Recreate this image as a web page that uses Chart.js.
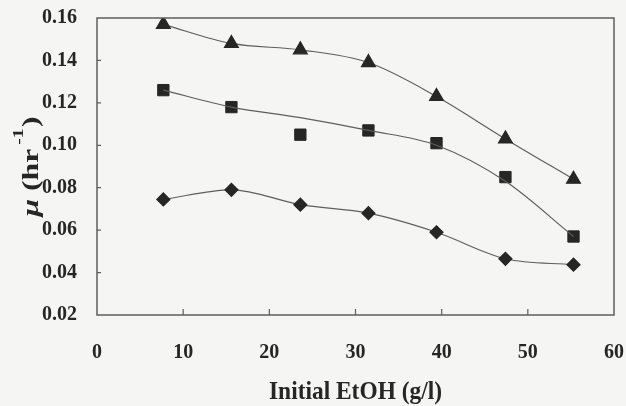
<!DOCTYPE html>
<html>
<head>
<meta charset="utf-8">
<script src="https://cdn.jsdelivr.net/npm/chart.js@4.4.1/dist/chart.umd.min.js"></script>
<style>
  html, body { margin: 0; padding: 0; background: #f5f5f4; }
  #wrap { width: 626px; height: 406px; }
</style>
</head>
<body>
<div id="wrap"><canvas id="muChart" width="626" height="406"></canvas></div>
<script>
// values
const ethanol = [7.7, 15.6, 23.6, 31.5, 39.4, 47.4, 55.3];
const triangleMu = [0.157, 0.148, 0.145, 0.139, 0.123, 0.103, 0.084];
const squareMu = [0.126, 0.118, 0.105, 0.107, 0.101, 0.085, 0.057];
const squareFit = [0.126, 0.118, 0.113, 0.107, 0.100, 0.083, 0.057];
const diamondMu = [0.0745, 0.079, 0.072, 0.068, 0.059, 0.0465, 0.0437];

const xTicks = [0, 10, 20, 30, 40, 50, 60];
const yTicks = [0.02, 0.04, 0.06, 0.08, 0.10, 0.12, 0.14, 0.16];
const xTitle = 'Initial EtOH (g/l)';

const FONT = "'Liberation Serif', 'Times New Roman', serif";
const INK = '#262626';
const LINE = '#5e5e5e';

const toPoints = ys => ys.map((y, i) => ({ x: ethanol[i], y }));

// plot frame + inward tick marks
const frame = {
  id: 'frame',
  afterDatasetsDraw(chart) {
    const { ctx, chartArea: a, scales } = chart;
    ctx.save();
    ctx.strokeStyle = LINE;
    ctx.lineWidth = 1.5;
    ctx.strokeRect(a.left, a.top, a.right - a.left, a.bottom - a.top);
    ctx.lineWidth = 1.2;
    ctx.beginPath();
    xTicks.slice(1, -1).forEach(v => {
      const x = scales.x.getPixelForValue(v);
      ctx.moveTo(x, a.bottom);
      ctx.lineTo(x, a.bottom - 6);
    });
    yTicks.slice(1, -1).forEach(v => {
      const y = scales.y.getPixelForValue(v);
      ctx.moveTo(a.left, y);
      ctx.lineTo(a.left + 4, y);
    });
    ctx.stroke();
    ctx.restore();
  }
};

// axis titles (the scan is a bit stretched vertically, so text is squeezed to fit)
const titles = {
  id: 'titles',
  afterDraw(chart) {
    const { ctx, chartArea: a } = chart;
    ctx.save();
    ctx.fillStyle = INK;
    ctx.textBaseline = 'alphabetic';

    // x title
    ctx.font = `bold 26px ${FONT}`;
    const w = ctx.measureText(xTitle).width;
    const sx = 173 / w;
    ctx.save();
    ctx.translate((a.left + a.right) / 2, 399);
    ctx.scale(sx, 1);
    ctx.textAlign = 'center';
    ctx.fillText(xTitle, 0, 0);
    ctx.restore();

    // y title: μ (hr^-1)
    const parts = [
      { t: 'μ', f: `italic bold 24px ${FONT}`, dy: 0, gap: 0 },
      { t: ' (hr', f: `bold 24px ${FONT}`, dy: 0, gap: 0 },
      { t: '-1', f: `bold 15px ${FONT}`, dy: -15, gap: 3 },
      { t: ')', f: `bold 24px ${FONT}`, dy: 0, gap: 1 }
    ];
    let total = 0;
    parts.forEach(p => { ctx.font = p.f; p.w = ctx.measureText(p.t).width; total += p.w + p.gap; });
    const sy = 100 / total;
    ctx.translate(38, (a.top + a.bottom) / 2);
    ctx.rotate(-Math.PI / 2);
    ctx.scale(sy, 1);
    ctx.textAlign = 'left';
    let x = -total / 2;
    parts.forEach(p => {
      ctx.font = p.f;
      x += p.gap;
      ctx.fillText(p.t, x, p.dy);
      x += p.w;
    });
    ctx.restore();
  }
};

const markerStyle = {
  borderColor: INK,
  backgroundColor: INK,
  pointBorderColor: INK,
  pointBackgroundColor: INK,
  borderWidth: 1
};

const curveStyle = {
  showLine: true,
  borderColor: LINE,
  borderWidth: 1.2,
  cubicInterpolationMode: 'monotone'
};

new Chart(document.getElementById('muChart'), {
  type: 'scatter',
  data: {
    datasets: [
      {
        ...markerStyle,
        ...curveStyle,
        data: toPoints(triangleMu),
        pointStyle: 'triangle',
        pointRadius: 8
      },
      {
        ...curveStyle,
        data: toPoints(squareFit),
        pointRadius: 0
      },
      {
        ...markerStyle,
        showLine: false,
        data: toPoints(squareMu),
        pointStyle: 'rect',
        pointRadius: 8
      },
      {
        ...markerStyle,
        ...curveStyle,
        data: toPoints(diamondMu),
        pointStyle: 'rectRot',
        pointRadius: 6.5
      }
    ]
  },
  options: {
    responsive: false,
    animation: false,
    layout: { padding: { top: 18, right: 12, left: 0, bottom: 0 } },
    plugins: {
      legend: { display: false },
      tooltip: { enabled: false }
    },
    scales: {
      x: {
        type: 'linear',
        min: 0,
        max: 60,
        afterBuildTicks: s => { s.ticks = xTicks.map(value => ({ value })); },
        afterFit: s => { s.height = 91; s.paddingLeft = 0; s.paddingRight = 0; },
        grid: { display: false, drawTicks: false },
        border: { display: false },
        ticks: {
          padding: 26,
          color: INK,
          font: { family: FONT, size: 20, weight: 'bold' },
          callback: v => String(v)
        }
      },
      y: {
        type: 'linear',
        min: 0.02,
        max: 0.16,
        afterBuildTicks: s => { s.ticks = yTicks.map(value => ({ value })); },
        afterFit: s => { s.width = 97; s.paddingTop = 0; s.paddingBottom = 0; },
        grid: { display: false, drawTicks: false },
        border: { display: false },
        ticks: {
          padding: 20,
          color: INK,
          font: { family: FONT, size: 20, weight: 'bold' },
          callback: v => v.toFixed(2)
        }
      }
    }
  },
  plugins: [frame, titles]
});
</script>
</body>
</html>
